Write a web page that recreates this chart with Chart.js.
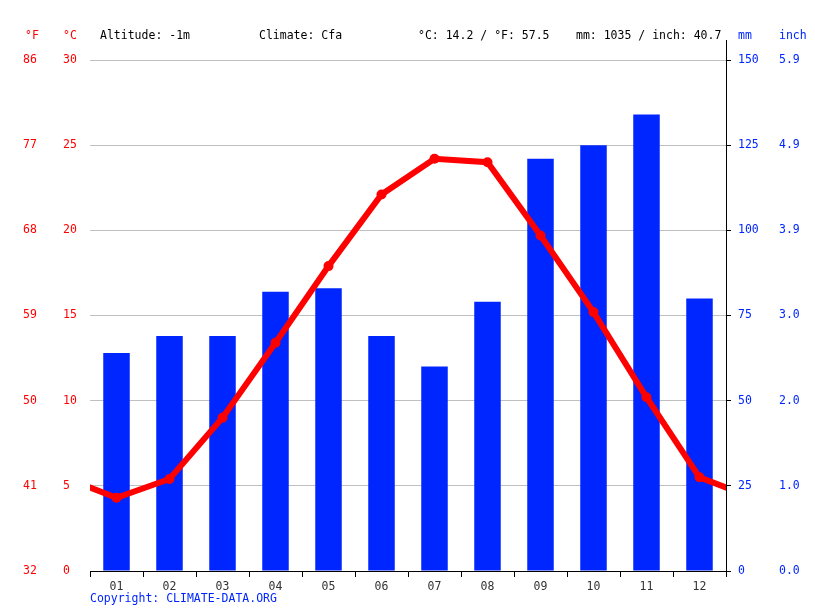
<!DOCTYPE html>
<html lang="en">
  <head>
    <meta charset="UTF-8" />
    <title>Climate chart</title>
    <script src="https://cdn.jsdelivr.net/npm/chart.js"></script>
    <style>
      html, body { margin: 0; padding: 0; background: #fff; }
      #wrap { width: 815px; height: 611px; }
    </style>
  </head>
  <body>
    <div id="wrap"><canvas id="climateChart" width="815" height="611"></canvas></div>

    <script>
      // data
      const months = ["01", "02", "03", "04", "05", "06", "07", "08", "09", "10", "11", "12"];
      const precipMm = [64, 69, 69, 82, 83, 69, 60, 79, 121, 125, 134, 80];
      const tempC = [4.3, 5.4, 9.0, 13.4, 17.9, 22.1, 24.2, 24.0, 19.7, 15.2, 10.2, 5.5];

      const fLabels = ["32", "41", "50", "59", "68", "77", "86"];
      const cLabels = ["0", "5", "10", "15", "20", "25", "30"];
      const mmLabels = ["0", "25", "50", "75", "100", "125", "150"];
      const inchLabels = ["0.0", "1.0", "2.0", "3.0", "3.9", "4.9", "5.9"];

      const headerTexts = [
        { text: "Altitude: -1m", x: 100 },
        { text: "Climate: Cfa", x: 259 },
        { text: "°C: 14.2 / °F: 57.5", x: 418 },
        { text: "mm: 1035 / inch: 40.7", x: 576 },
      ];

      const RED = "#ff0000";
      const BLUE = "#0026ff";
      const FONT = "DejaVu Sans Mono";

      // line wraps around the year: Dec before Jan, Jan after Dec
      const tempPoints = [{ x: 0, y: tempC[11] }];
      tempC.forEach((t, i) => tempPoints.push({ x: i + 1, y: t }));
      tempPoints.push({ x: 13, y: tempC[0] });
      const pointRadii = tempPoints.map((p, i) => (i === 0 || i === tempPoints.length - 1 ? 0 : 5));

      function fixWidth(w) {
        return (scale) => { scale.width = w; };
      }

      const overlay = {
        id: "overlay",
        afterDraw(chart) {
          const ctx = chart.ctx;
          const area = chart.chartArea;
          const s = chart.scales;
          ctx.save();
          ctx.font = "11.5px '" + FONT + "'";
          ctx.textBaseline = "middle";
          ctx.textAlign = "left";
          const y = 36;
          ctx.fillStyle = RED;
          ctx.fillText("°F", s.yF.left + 2, y);
          ctx.fillText("°C", s.yC.left, y);
          ctx.fillStyle = BLUE;
          ctx.fillText("mm", s.yMm.left + 12, y);
          ctx.fillText("inch", s.yIn.left + 1, y);
          ctx.fillStyle = "#000";
          headerTexts.forEach((h) => ctx.fillText(h.text, h.x, y));
          ctx.fillStyle = BLUE;
          ctx.fillText("Copyright: CLIMATE-DATA.ORG", area.left, 599);
          // right axis line runs a bit above the plot
          ctx.strokeStyle = "#000";
          ctx.lineWidth = 1;
          ctx.beginPath();
          ctx.moveTo(Math.round(area.right) + 0.5, 40);
          ctx.lineTo(Math.round(area.right) + 0.5, area.top);
          ctx.stroke();
          ctx.restore();
        },
      };

      Chart.defaults.font.family = FONT;
      Chart.defaults.font.size = 11.5;

      new Chart(document.getElementById("climateChart").getContext("2d"), {
        data: {
          labels: months,
          datasets: [
            {
              type: "line",
              data: tempPoints,
              xAxisID: "xLine",
              yAxisID: "yC",
              borderColor: RED,
              backgroundColor: RED,
              borderWidth: 6,
              pointRadius: pointRadii,
              pointHoverRadius: pointRadii,
              pointBorderWidth: 0,
              tension: 0,
              order: 0,
            },
            {
              type: "bar",
              data: precipMm,
              xAxisID: "x",
              yAxisID: "yMm",
              backgroundColor: BLUE,
              grouped: false,
              barPercentage: 0.5,
              categoryPercentage: 1,
              order: 1,
            },
          ],
        },
        options: {
          responsive: false,
          animation: false,
          events: [],
          layout: { padding: { left: 23, right: 0, top: 60, bottom: 0 } },
          plugins: { legend: { display: false }, tooltip: { enabled: false } },
          scales: {
            x: {
              type: "category",
              position: "bottom",
              offset: true,
              grid: { offset: true, drawOnChartArea: false, drawTicks: true, tickLength: 6, color: "#000" },
              border: { display: true, color: "#000" },
              ticks: { color: "#333", padding: 3, font: { size: 11.5 } },
              afterFit: (scale) => { scale.height = 40; },
            },
            xLine: {
              type: "linear",
              display: false,
              min: 0.5,
              max: 12.5,
            },
            yC: {
              position: "left",
              weight: 0,
              min: 0,
              max: 30,
              ticks: {
                stepSize: 5,
                color: RED,
                crossAlign: "far",
                padding: 0,
                callback: (v) => cLabels[v / 5],
              },
              grid: { color: "#c0c0c0", drawTicks: false, tickLength: 0 },
              border: { display: false },
              afterFit: fixWidth(27),
            },
            yF: {
              position: "left",
              weight: 1,
              min: 0,
              max: 30,
              ticks: {
                stepSize: 5,
                color: RED,
                crossAlign: "far",
                padding: 0,
                callback: (v) => fLabels[v / 5],
              },
              grid: { display: false, drawTicks: false },
              border: { display: false },
              afterFit: fixWidth(40),
            },
            yMm: {
              position: "right",
              weight: 0,
              min: 0,
              max: 150,
              ticks: {
                stepSize: 25,
                color: BLUE,
                crossAlign: "near",
                padding: 7,
                callback: (v) => mmLabels[v / 25],
              },
              grid: { drawOnChartArea: false, drawTicks: true, tickLength: 5, color: "#000" },
              border: { display: true, color: "#000" },
              afterFit: fixWidth(52),
            },
            yIn: {
              position: "right",
              weight: 1,
              min: 0,
              max: 150,
              ticks: {
                stepSize: 25,
                color: BLUE,
                crossAlign: "near",
                padding: 1,
                callback: (v) => inchLabels[v / 25],
              },
              grid: { display: false, drawTicks: false },
              border: { display: false },
              afterFit: fixWidth(37),
            },
          },
        },
        plugins: [overlay],
      });
    </script>
  </body>
</html>
